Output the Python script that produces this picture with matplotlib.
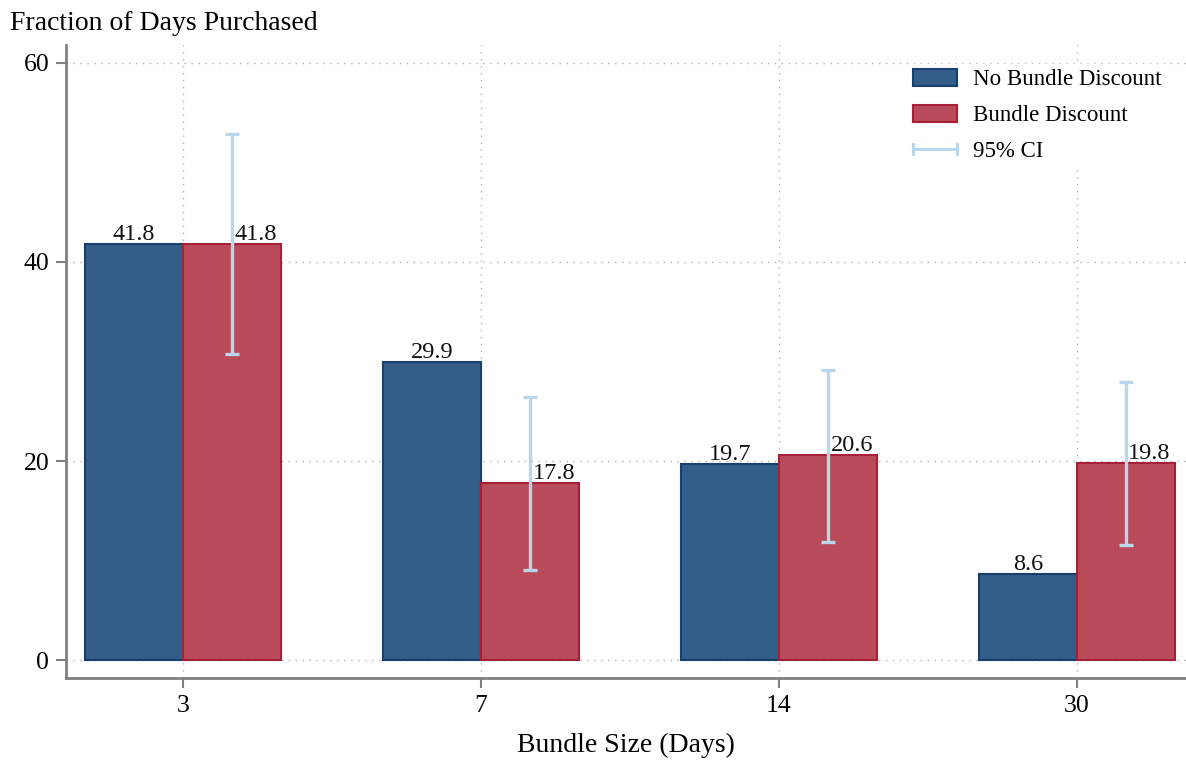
import matplotlib
matplotlib.use("Agg")
import matplotlib.pyplot as plt
import numpy as np
from matplotlib.lines import Line2D
from matplotlib.patches import Patch
from matplotlib.legend_handler import HandlerBase

categories = ["3", "7", "14", "30"]
no_discount = [41.8, 29.9, 19.7, 8.6]
discount = [41.8, 17.8, 20.6, 19.8]
ci_low = [30.8, 9.1, 11.9, 11.6]
ci_high = [52.9, 26.4, 29.1, 27.9]
yticks = [0, 20, 40, 60]

plt.rcParams['font.family'] = ['Liberation Serif', 'DejaVu Serif']

blue_fill = "#335e89"
blue_edge = "#173f70"
red_fill = "#b84a59"
red_edge = "#a81f38"
ci_color = "#b9d6ea"
grid_color = "#b0b0b0"
spine_color = "#808080"


class CapLineHandler(HandlerBase):
    def create_artists(self, legend, orig_handle, xdescent, ydescent, width, height, fontsize, trans):
        y = height / 2 - ydescent
        x0, x1 = -xdescent, -xdescent + width
        c = 3.5
        arts = [
            Line2D([x0, x1], [y, y], color=ci_color, lw=2.2, transform=trans),
            Line2D([x0, x0], [y - c, y + c], color=ci_color, lw=2.2, transform=trans),
            Line2D([x1, x1], [y - c, y + c], color=ci_color, lw=2.2, transform=trans),
        ]
        return arts


fig = plt.figure(figsize=(11.86, 7.61), dpi=100)
ax = fig.add_axes([66/1186, 1-678/761, 1-66/1186, (678-45)/761])

x = np.arange(len(categories))
w = 0.329

ax.bar(x - w/2, no_discount, width=w, color=blue_fill, edgecolor=blue_edge, linewidth=1.5, zorder=3)
ax.bar(x + w/2, discount, width=w, color=red_fill, edgecolor=red_edge, linewidth=1.5, zorder=3)

lo = np.array(discount) - np.array(ci_low)
hi = np.array(ci_high) - np.array(discount)
ax.errorbar(x + w/2, discount, yerr=[lo, hi], fmt='none', ecolor=ci_color,
            elinewidth=2.4, capsize=5, capthick=2.4, zorder=5)

for xi, v in zip(x - w/2, no_discount):
    ax.text(xi, v - 0.1, f"{v:.1f}", ha='center', va='bottom', fontsize=17.5, color="#111111", zorder=4)
for xi, v in zip(x + w/2, discount):
    ax.text(xi + 0.008, v - 0.1, f"{v:.1f}", ha='left', va='bottom', fontsize=17.5, color="#111111", zorder=4)

ax.set_xlim(-0.393, 3.366)
ax.set_ylim(-1.8, 61.8)
ax.set_yticks(yticks)
ax.set_xticks(x)
ax.set_xticklabels(categories)
ax.tick_params(axis='both', labelsize=18.5, color=spine_color, length=7, width=1.5, pad=5)

ax.grid(True, linestyle=(0, (1, 4)), color=grid_color, linewidth=1.0, zorder=0)
ax.set_axisbelow(True)

for s in ['top', 'right']:
    ax.spines[s].set_visible(False)
for s in ['left', 'bottom']:
    ax.spines[s].set_color(spine_color)
    ax.spines[s].set_linewidth(2)

ax.set_xlabel("Bundle Size (Days)", fontsize=20, labelpad=12)
fig.text(10/1186, 1-24/761, "Fraction of Days Purchased", fontsize=20, ha='left', va='center')

ci_handle = Line2D([0], [0], color=ci_color)
handles = [
    Patch(facecolor=blue_fill, edgecolor=blue_edge, linewidth=1.5),
    Patch(facecolor=red_fill, edgecolor=red_edge, linewidth=1.5),
    ci_handle,
]
leg = ax.legend(handles, ["No Bundle Discount", "Bundle Discount", "95% CI"],
                loc='upper left',
                frameon=True, fontsize=16.5, handlelength=1.92, handleheight=0.8,
                labelspacing=0.62, handletextpad=0.7, borderaxespad=0.0, borderpad=0.2,
                handler_map={ci_handle: CapLineHandler()})
leg.set_bbox_to_anchor((913/1186 - 0.004, 1 - 64/761), transform=fig.transFigure)
leg.get_frame().set_edgecolor('white')
leg.get_frame().set_facecolor('white')
leg.get_frame().set_alpha(1.0)
leg.get_frame().set_boxstyle('square', pad=0.0)
leg.set_zorder(10)

fig.savefig("out.png", dpi=100)
